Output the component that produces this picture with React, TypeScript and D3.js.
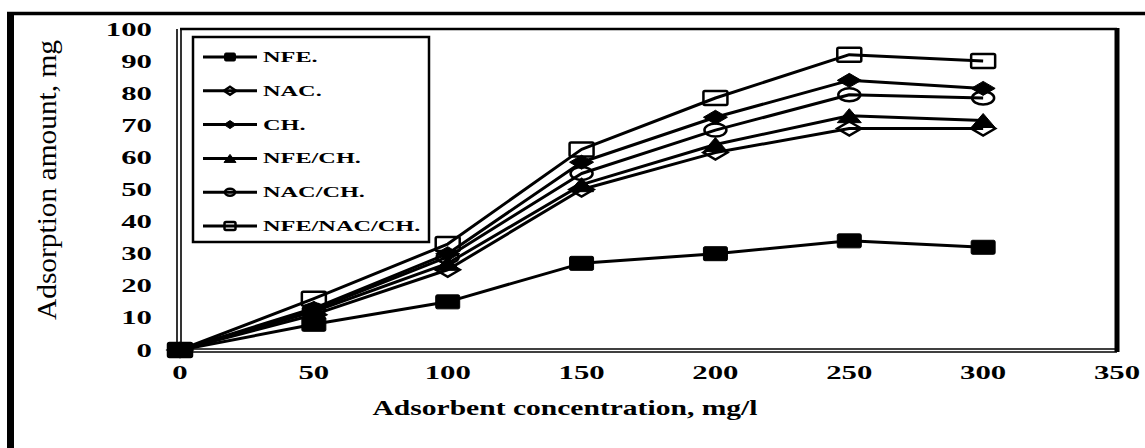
import React from "react";
import * as d3 from "d3";

// Adsorbent concentration (mg/l) at which each sample was measured
const concentrations = [0, 50, 100, 150, 200, 250, 300];

// Adsorption amount (mg) for each adsorbent
const nfeValues = [0, 8, 15, 27, 30, 34, 32];
const nacValues = [0, 11, 25, 50, 61.5, 69, 69];
const chValues = [0, 13, 30, 58.5, 72.5, 84, 81.5];
const nfeChValues = [0, 12, 27, 51.5, 64, 73, 71.5];
const nacChValues = [0, 12.5, 29, 55, 68.5, 79.5, 78.5];
const nfeNacChValues = [0, 16, 33, 62.5, 78.5, 92, 90];

const seriesNames = ["NFE.", "NAC.", "CH.", "NFE/CH.", "NAC/CH.", "NFE/NAC/CH."];
const seriesMarkers = ["squareFilled", "diamondOpen", "diamondFilled", "triangleFilled", "circleOpen", "squareOpen"];

const xTicks = [0, 50, 100, 150, 200, 250, 300, 350];
const yTicks = [0, 10, 20, 30, 40, 50, 60, 70, 80, 90, 100];

const W = 1145;
const H = 448;
const FONT = "'Liberation Serif', 'Times New Roman', serif";
const SX = 1.62; // horizontal stretch of the printed figure

type MarkerKind = string;

function Marker({ kind, cx, cy, w, h }: { kind: MarkerKind; cx: number; cy: number; w: number; h: number }) {
  const filled = kind.endsWith("Filled");
  const fill = filled ? "#000" : "none";
  const sw = filled ? 1 : 2.5;
  if (kind.startsWith("square")) {
    return <rect x={cx - w / 2} y={cy - h / 2} width={w} height={h} fill={fill} stroke="#000" strokeWidth={sw} rx={1.5} />;
  }
  if (kind.startsWith("diamond")) {
    const pts = [[cx, cy - h / 2], [cx + w / 2, cy], [cx, cy + h / 2], [cx - w / 2, cy]];
    return <polygon points={pts.map((p) => p.join(",")).join(" ")} fill={fill} stroke="#000" strokeWidth={sw} />;
  }
  if (kind.startsWith("triangle")) {
    const pts = [[cx, cy - h / 2], [cx + w / 2, cy + h / 2], [cx - w / 2, cy + h / 2]];
    return <polygon points={pts.map((p) => p.join(",")).join(" ")} fill={fill} stroke="#000" strokeWidth={sw} />;
  }
  return <ellipse cx={cx} cy={cy} rx={w / 2} ry={h / 2} fill={fill} stroke="#000" strokeWidth={sw} />;
}

export default function App() {
  const left = 180;
  const right = 1117;
  const top = 29;
  const bottom = 350;

  const x = d3.scaleLinear().domain([0, 350]).range([left, right]);
  const y = d3.scaleLinear().domain([0, 100]).range([bottom, top]);

  const allSeries = [nfeValues, nacValues, chValues, nfeChValues, nacChValues, nfeNacChValues];
  const line = d3
    .line<number>()
    .x((_, i) => x(concentrations[i]))
    .y((d) => y(d));

  // draw order: later series on top, NFE's filled squares stay visible through open markers
  const drawOrder = [5, 4, 3, 2, 1, 0];

  const legendX = 193;
  const legendY = 37;
  const legendW = 236;
  const legendH = 205;
  const legendRow0 = 57;
  const legendStep = 33.8;

  return (
    <svg
      width={W}
      height={H}
      viewBox={`0 0 ${W} ${H}`}
      style={{ position: "fixed", left: 0, top: 0, background: "#fff", display: "block" }}
    >
      <rect x={0} y={0} width={W} height={H} fill="#fff" />

      {/* outer frame */}
      <line x1={7} x2={W} y1={13.5} y2={13.5} stroke="#000" strokeWidth={3.5} />
      <line x1={10.5} x2={10.5} y1={12} y2={H} stroke="#000" strokeWidth={7} />

      {/* plot frame */}
      <line x1={left} x2={right} y1={top} y2={top} stroke="#000" strokeWidth={2.5} />
      <line x1={right} x2={right} y1={top - 1} y2={bottom + 2} stroke="#000" strokeWidth={5} />
      <line x1={left - 3} x2={right} y1={bottom - 1} y2={bottom - 1} stroke="#000" strokeWidth={1.6} />
      <line x1={left - 3} x2={right} y1={bottom + 2} y2={bottom + 2} stroke="#000" strokeWidth={1.6} />
      <line x1={left - 3} x2={left - 3} y1={top} y2={bottom + 2} stroke="#000" strokeWidth={1.6} />
      <line x1={left + 1} x2={left + 1} y1={top} y2={bottom - 1} stroke="#000" strokeWidth={1.6} />

      {/* y tick labels */}
      {yTicks.map((t) => (
        <text
          key={`y${t}`}
          transform={`translate(152,${y(t) + 6.5}) scale(${SX},1)`}
          textAnchor="end"
          fontFamily={FONT}
          fontWeight="bold"
          fontSize={19}
          fill="#000"
        >
          {t}
        </text>
      ))}

      {/* x tick labels */}
      {xTicks.map((t) => (
        <text
          key={`x${t}`}
          transform={`translate(${x(t)},${378.5}) scale(${SX},1)`}
          textAnchor="middle"
          fontFamily={FONT}
          fontWeight="bold"
          fontSize={19}
          fill="#000"
        >
          {t}
        </text>
      ))}

      {/* axis titles */}
      <text
        x={565}
        y={415}
        textAnchor="middle"
        fontFamily={FONT}
        fontWeight="bold"
        fontSize={21}
        textLength={385}
        lengthAdjust="spacingAndGlyphs"
        fill="#000"
      >
        Adsorbent concentration, mg/l
      </text>
      <text
        transform="translate(56,180) rotate(-90)"
        textAnchor="middle"
        fontFamily={FONT}
        fontSize={28}
        textLength={280}
        lengthAdjust="spacingAndGlyphs"
        fill="#000"
      >
        Adsorption amount, mg
      </text>

      {/* series lines */}
      {drawOrder.map((si) => (
        <path key={`l${si}`} d={line(allSeries[si]) || ""} fill="none" stroke="#000" strokeWidth={3} strokeLinejoin="round" />
      ))}

      {/* series markers */}
      {drawOrder.map((si) =>
        allSeries[si].map((v, i) => {
          const kind = seriesMarkers[si];
          const w = kind.startsWith("circle") ? 22 : 24;
          const h = kind.startsWith("circle") ? 13 : 14;
          return <Marker key={`m${si}-${i}`} kind={kind} cx={x(concentrations[i])} cy={y(v)} w={w} h={h} />;
        })
      )}

      {/* legend */}
      <rect x={legendX} y={legendY} width={legendW} height={legendH} fill="#fff" stroke="#000" strokeWidth={2.5} />
      {seriesNames.map((name, i) => {
        const ry = legendRow0 + i * legendStep;
        const kind = seriesMarkers[i];
        const small = kind.startsWith("square") ? [11, 8] : kind.startsWith("circle") ? [10, 7] : [12, 8];
        return (
          <g key={`lg${i}`}>
            <line x1={203} x2={257} y1={ry} y2={ry} stroke="#000" strokeWidth={3} />
            <Marker kind={kind} cx={230} cy={ry} w={small[0]} h={small[1]} />
            <text
              transform={`translate(263,${ry + 5}) scale(${SX},1)`}
              fontFamily={FONT}
              fontWeight="bold"
              fontSize={15}
              fill="#000"
            >
              {name}
            </text>
          </g>
        );
      })}
    </svg>
  );
}
